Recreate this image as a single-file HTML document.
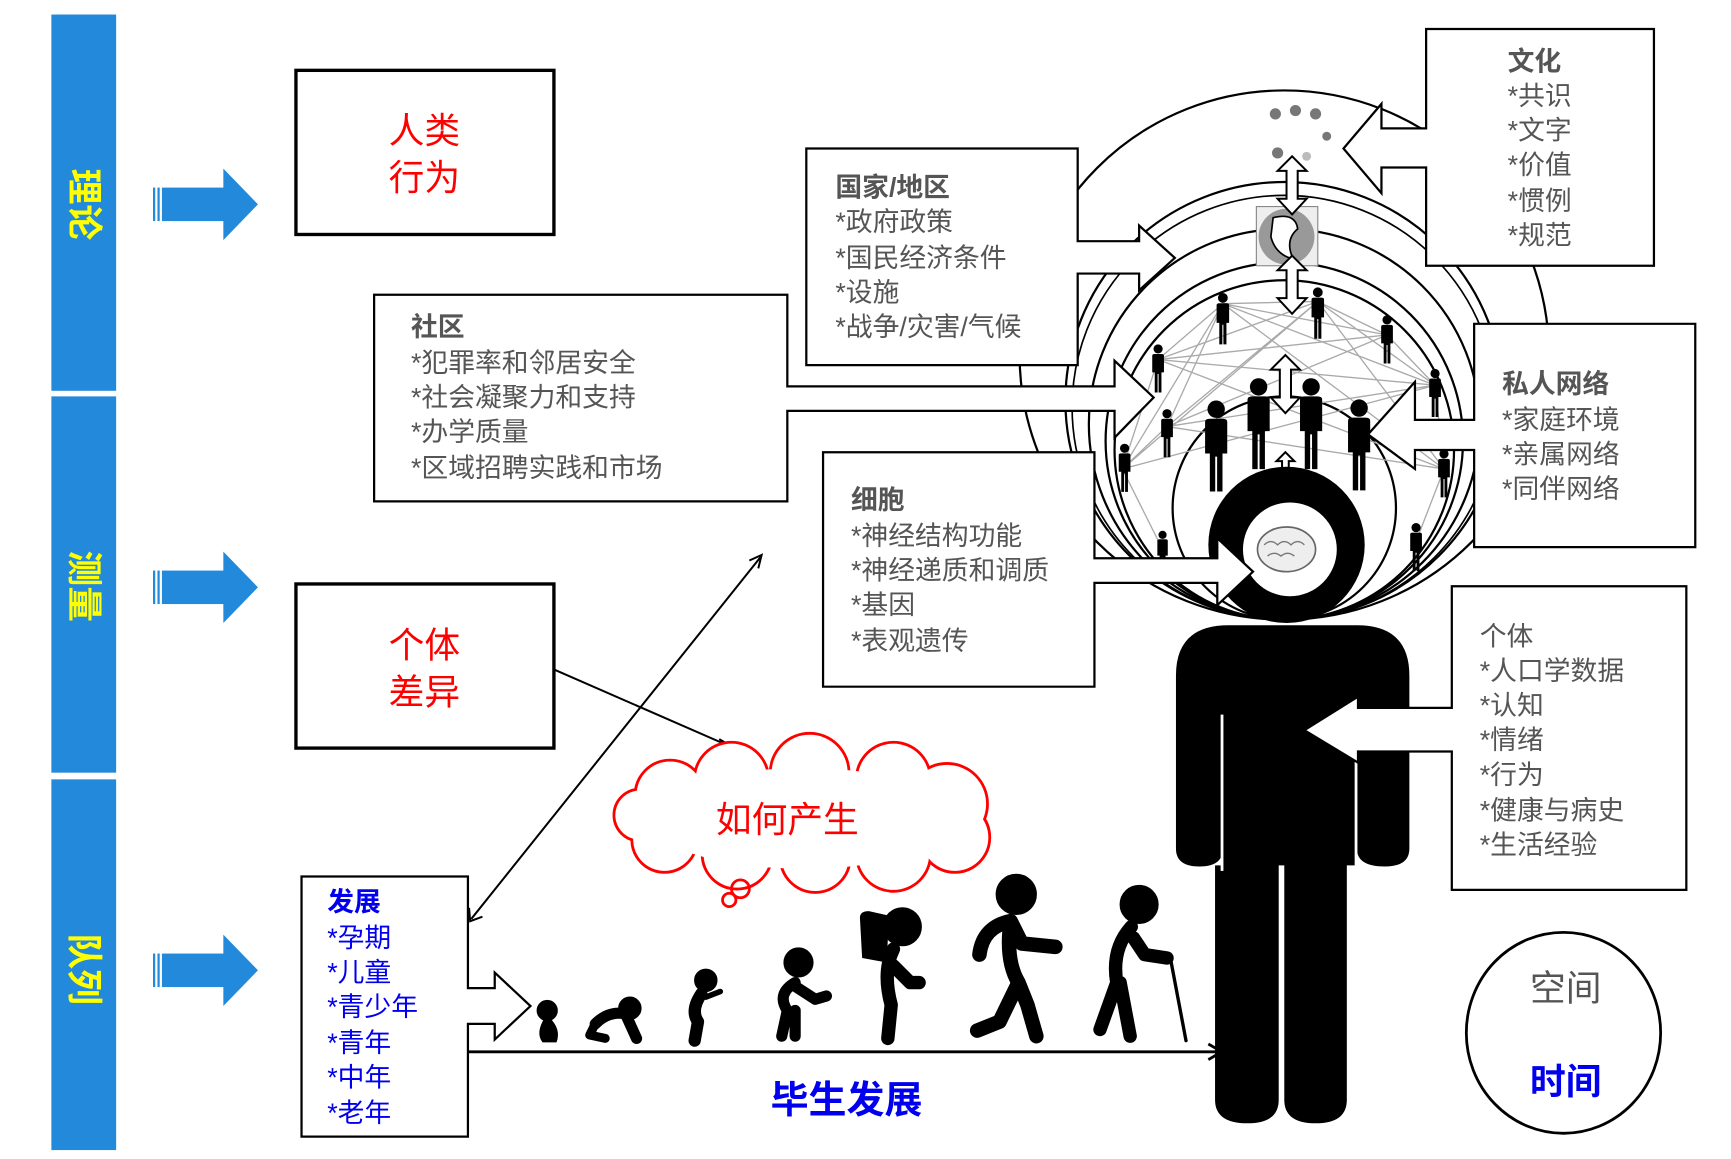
<!DOCTYPE html>
<html><head><meta charset="utf-8"><style>
html,body{margin:0;padding:0;background:#fff;}
svg{display:block;}
text{font-family:"Liberation Sans","Noto Sans CJK SC",sans-serif;}
.g{fill:#555;font-size:24px;}
.gb{fill:#555;font-size:24px;font-weight:bold;}
.b{fill:#0000ee;font-size:24px;}
</style></head><body>
<svg width="1731" height="1159" viewBox="0 0 1550 1038" preserveAspectRatio="none" xmlns="http://www.w3.org/2000/svg">
<defs>
<symbol id="p" viewBox="0 0 20 60"><circle cx="10" cy="6" r="5.5"/><path d="M3 14 Q3 12 6 12 L14 12 Q17 12 17 14 L17 34 L14 34 L14 58 L10.6 58 L10.6 36 L9.4 36 L9.4 58 L6 58 L6 34 L3 34Z"/></symbol>
</defs>
<rect x="46" y="13" width="58" height="337" fill="#2389db"/>
<rect x="46" y="355" width="58" height="337" fill="#2389db"/>
<rect x="46" y="698" width="58" height="332" fill="#2389db"/>
<g fill="#ffff00" font-size="32" font-weight="bold">
<text transform="translate(75,183) rotate(90)" text-anchor="middle" dominant-baseline="central">理论</text>
<text transform="translate(75,525) rotate(90)" text-anchor="middle" dominant-baseline="central">测量</text>
<text transform="translate(75,868) rotate(90)" text-anchor="middle" dominant-baseline="central">队列</text>
</g>
<g fill="#2389db">
<g id="ba"><rect x="137" y="168" width="2" height="30"/><rect x="141" y="168" width="2" height="30"/><rect x="145" y="168" width="56" height="30"/><path d="M200 151 L231 183 L200 215Z"/></g>
<use href="#ba" y="343"/><use href="#ba" y="686"/>
</g>
<rect x="265" y="63" width="231" height="147" fill="none" stroke="#000" stroke-width="3"/>
<text x="380" y="128" fill="#f00" font-size="32" text-anchor="middle">人类</text>
<text x="380" y="170" fill="#f00" font-size="32" text-anchor="middle">行为</text>
<rect x="265" y="523" width="231" height="147" fill="none" stroke="#000" stroke-width="3"/>
<text x="380" y="589" fill="#f00" font-size="32" text-anchor="middle">个体</text>
<text x="380" y="631" fill="#f00" font-size="32" text-anchor="middle">差异</text>
<path d="M270 785 L419 785 L419 885 L443 885 L443 871 L475 901 L443 931 L443 917 L419 917 L419 1018 L270 1018Z" fill="#fff" stroke="#000" stroke-width="2"/>
<text x="293" y="816" class="b" font-weight="bold">发展</text>
<text x="293" y="848" class="b">*孕期</text>
<text x="293" y="879" class="b">*儿童</text>
<text x="293" y="910" class="b">*青少年</text>
<text x="293" y="942" class="b">*青年</text>
<text x="293" y="973" class="b">*中年</text>
<text x="293" y="1005" class="b">*老年</text>
<line x1="419" y1="942" x2="1092" y2="942" stroke="#000" stroke-width="2.5"/>
<path d="M1082 935 L1094 942 L1082 949" fill="none" stroke="#000" stroke-width="2.5"/>
<text x="758" y="997" fill="#0000ee" font-size="34" font-weight="bold" text-anchor="middle">毕生发展</text>
<line x1="422" y1="823" x2="681" y2="499" stroke="#000" stroke-width="1.8"/>
<path d="M671 502 L682 497 L679 509" fill="none" stroke="#000" stroke-width="1.8"/>
<path d="M420 813 L421 825 L432 821" fill="none" stroke="#000" stroke-width="1.8"/>
<line x1="497" y1="600" x2="655" y2="669" stroke="#000" stroke-width="1.8"/>
<path d="M644 662 L656 669 L643 671" fill="none" stroke="#000" stroke-width="1.8"/>
<g fill="#fff" stroke="#f00" stroke-width="5">
<circle cx="600" cy="712" r="30"/><circle cx="655" cy="698" r="32"/><circle cx="725" cy="692" r="34"/><circle cx="800" cy="698" r="32"/><circle cx="848" cy="720" r="35"/><circle cx="855" cy="750" r="30"/><circle cx="800" cy="765" r="32"/><circle cx="730" cy="768" r="30"/><circle cx="660" cy="765" r="30"/><circle cx="595" cy="752" r="28"/><circle cx="573" cy="730" r="22"/>
</g>
<g fill="#fff" stroke="none">
<circle cx="600" cy="712" r="30"/><circle cx="655" cy="698" r="32"/><circle cx="725" cy="692" r="34"/><circle cx="800" cy="698" r="32"/><circle cx="848" cy="720" r="35"/><circle cx="855" cy="750" r="30"/><circle cx="800" cy="765" r="32"/><circle cx="730" cy="768" r="30"/><circle cx="660" cy="765" r="30"/><circle cx="595" cy="752" r="28"/><circle cx="573" cy="730" r="22"/>
<ellipse cx="720" cy="733" rx="140" ry="45"/>
</g>
<circle cx="663" cy="796" r="8" fill="none" stroke="#f00" stroke-width="2.5"/>
<circle cx="653" cy="806" r="6" fill="none" stroke="#f00" stroke-width="2.5"/>
<text x="705" y="745" fill="#f00" font-size="32" text-anchor="middle">如何产生</text>
<g fill="#000" stroke="#000" stroke-linecap="round" stroke-linejoin="round">
<circle cx="490" cy="905" r="9"/><path d="M488 912 Q480 925 486 933 L498 933 Q502 922 492 912Z"/>
<circle cx="564" cy="903" r="10"/><path d="M533 917 Q545 905 560 908 L570 930" fill="none" stroke-width="10"/><path d="M533 917 L528 927 L542 930" fill="none" stroke-width="8"/>
<circle cx="632" cy="878" r="10"/><path d="M628 890 Q618 905 625 915 L622 932" fill="none" stroke-width="11"/><path d="M632 893 L645 888" fill="none" stroke-width="5"/>
<circle cx="715" cy="862" r="13"/><path d="M712 880 Q695 890 705 905 L700 928 M712 905 L712 928 M710 882 L730 895 L740 892" fill="none" stroke-width="10"/>
<circle cx="808" cy="830" r="17"/><path d="M800 850 Q790 870 798 900 L795 930 M800 865 L815 880 L823 880" fill="none" stroke-width="12"/>
<circle cx="910" cy="801" r="18"/><path d="M905 825 Q880 830 877 855 M905 825 Q900 860 912 880 L895 915 L875 923 M912 880 L920 900 L928 928 M905 825 L915 845 L945 848" fill="none" stroke-width="13"/>
<circle cx="1020" cy="810" r="17"/><path d="M1013 830 Q995 850 1000 880 L985 922 M1003 880 L1012 928 M1015 840 L1025 855 L1045 858" fill="none" stroke-width="12"/><line x1="1048" y1="858" x2="1062" y2="932" stroke-width="3"/>
</g>
<path d="M770 822 Q770 816 778 816 L796 820 L794 862 L772 858 Z" fill="#000"/>
<g fill="none" stroke="#000" stroke-width="2">
<circle cx="1150" cy="318" r="237"/>
<circle cx="1150" cy="359" r="196"/>
<circle cx="1150" cy="395" r="160"/>
<circle cx="1150" cy="380" r="175"/>
<circle cx="1150" cy="365" r="190" stroke-width="1.5"/>
<circle cx="1150" cy="403" r="152"/>
<circle cx="1150" cy="455" r="100"/>
</g>
<g stroke="#aaa" stroke-width="1.2">
<path d="M1095 272 L1180 270 M1095 272 L1242 300 M1095 272 L1037 322 M1095 272 L1285 345 M1095 272 L1045 382 M1095 272 L1293 420 M1180 270 L1037 322 M1180 270 L1242 300 M1180 270 L1285 345 M1180 270 L1045 382 M1180 270 L1005 420 M1242 300 L1037 322 M1242 300 L1045 382 M1242 300 L1285 345 M1037 322 L1285 345 M1037 322 L1293 420 M1285 345 L1045 382 M1285 345 L1005 420 M1045 382 L1293 420 M1005 420 L1040 490 M1293 420 L1268 485 M1005 420 L1045 382 M1037 322 L1005 420 M1285 345 L1293 420 M1095 272 L1005 420 M1180 270 L1293 420"/>
</g>
<rect x="1125" y="185" width="55" height="53" fill="#eee" stroke="#888"/>
<circle cx="1152" cy="212" r="25" fill="#999"/>
<path d="M1140 195 Q1160 190 1162 205 Q1150 215 1158 232 Q1142 228 1138 212Z" fill="#fff" stroke="#000" stroke-width="1.5"/>
<g fill="#777"><circle cx="1142" cy="102" r="5"/><circle cx="1160" cy="99" r="5"/><circle cx="1178" cy="102" r="5"/><circle cx="1188" cy="122" r="4"/><circle cx="1144" cy="137" r="5"/><circle cx="1170" cy="140" r="4" fill="#bbb"/></g>
<g fill="#fff" stroke="#000" stroke-width="1.8">
<path id="da" d="M1157 140 L1170 153 L1162 153 L1162 178 L1170 178 L1157 192 L1144 178 L1152 178 L1152 153 L1144 153Z"/>
<use href="#da" y="89"/>
<use href="#da" x="-6" y="178"/>
<path d="M1151 405 L1159 413 L1154 413 L1154 428 L1159 428 L1151 437 L1143 428 L1148 428 L1148 413 L1143 413Z"/>
<path d="M1151 524 L1159 532 L1154 532 L1154 546 L1159 546 L1151 555 L1143 546 L1148 546 L1148 532 L1143 532Z"/>
</g>
<g fill="#000">
<use href="#p" x="1085" y="262" width="20" height="48"/>
<use href="#p" x="1170" y="257" width="20" height="48"/>
<use href="#p" x="1233" y="282" width="18" height="45"/>
<use href="#p" x="1028" y="308" width="18" height="45"/>
<use href="#p" x="1276" y="330" width="18" height="45"/>
<use href="#p" x="1036" y="366" width="18" height="45"/>
<use href="#p" x="998" y="397" width="18" height="45"/>
<use href="#p" x="1284" y="402" width="18" height="45"/>
<use href="#p" x="1032" y="475" width="18" height="40"/>
<use href="#p" x="1259" y="468" width="18" height="45"/>
<use href="#p" x="1072" y="358" width="34" height="85"/>
<use href="#p" x="1110" y="338" width="34" height="85"/>
<use href="#p" x="1157" y="338" width="34" height="85"/>
<use href="#p" x="1200" y="357" width="34" height="85"/>
</g>
<circle cx="1152" cy="488" r="70" fill="#000"/>
<circle cx="1155" cy="492" r="42" fill="#fff"/>
<ellipse cx="1152" cy="492" rx="26" ry="20" fill="#eee" stroke="#666" stroke-width="1.5"/>
<path d="M1132 488 q6 -6 12 0 q6 -6 12 0 q6 -6 12 0 M1135 498 q6 -5 12 0 q6 -5 12 0" fill="none" stroke="#777" stroke-width="1.2"/>
<path d="M1053 605 Q1053 560 1100 560 L1215 560 Q1262 560 1262 605 L1262 760 Q1262 776 1240 776 Q1215 776 1215 760 L1215 775 L1206 775 L1206 985 Q1206 1006 1178 1006 Q1150 1006 1150 985 L1150 775 L1145 775 L1145 985 Q1145 1006 1117 1006 Q1088 1006 1088 985 L1088 775 L1095 775 L1095 760 Q1095 776 1074 776 Q1053 776 1053 760Z" fill="#000"/>
<rect x="1093" y="640" width="2.5" height="140" fill="#fff"/>
<rect x="1213" y="640" width="2.5" height="140" fill="#fff"/>
<path d="M1277 26 L1481 26 L1481 238 L1277 238 L1277 150 L1237 150 L1237 173 L1203 133 L1237 93 L1237 115 L1277 115Z" fill="#fff" stroke="#000" stroke-width="2"/>
<text x="1350" y="63" class="gb">文化</text>
<text x="1350" y="94" class="g">*共识</text>
<text x="1350" y="125" class="g">*文字</text>
<text x="1350" y="156" class="g">*价值</text>
<text x="1350" y="188" class="g">*惯例</text>
<text x="1350" y="219" class="g">*规范</text>
<path d="M722 133 L965 133 L965 216 L1020 216 L1020 202 L1052 231 L1020 260 L1020 245 L965 245 L965 327 L722 327Z" fill="#fff" stroke="#000" stroke-width="2"/>
<text x="748" y="176" class="gb">国家/地区</text>
<text x="748" y="207" class="g">*政府政策</text>
<text x="748" y="239" class="g">*国民经济条件</text>
<text x="748" y="270" class="g">*设施</text>
<text x="748" y="301" class="g">*战争/灾害/气候</text>
<path d="M335 264 L705 264 L705 346 L998 346 L998 323 L1033 356 L998 392 L998 368 L705 368 L705 449 L335 449Z" fill="#fff" stroke="#000" stroke-width="2"/>
<text x="368" y="301" class="gb">社区</text>
<text x="368" y="333" class="g">*犯罪率和邻居安全</text>
<text x="368" y="364" class="g">*社会凝聚力和支持</text>
<text x="368" y="395" class="g">*办学质量</text>
<text x="368" y="427" class="g">*区域招聘实践和市场</text>
<path d="M737 405 L980 405 L980 500 L1090 500 L1090 482 L1122 512 L1090 542 L1090 522 L980 522 L980 615 L737 615Z" fill="#fff" stroke="#000" stroke-width="2"/>
<text x="762" y="456" class="gb">细胞</text>
<text x="762" y="488" class="g">*神经结构功能</text>
<text x="762" y="519" class="g">*神经递质和调质</text>
<text x="762" y="550" class="g">*基因</text>
<text x="762" y="582" class="g">*表观遗传</text>
<path d="M1320 290 L1518 290 L1518 490 L1320 490 L1320 403 L1267 403 L1267 420 L1225 389 L1267 342 L1267 376 L1320 376Z" fill="#fff" stroke="#000" stroke-width="2"/>
<text x="1345" y="352" class="gb">私人网络</text>
<text x="1345" y="384" class="g">*家庭环境</text>
<text x="1345" y="415" class="g">*亲属网络</text>
<text x="1345" y="446" class="g">*同伴网络</text>
<path d="M1300 525 L1510 525 L1510 797 L1300 797 L1300 673 L1216 673 L1216 683 L1168 654 L1216 624 L1216 634 L1300 634Z" fill="#fff" stroke="#000" stroke-width="2"/>
<text x="1325" y="578" class="g">个体</text>
<text x="1325" y="609" class="g">*人口学数据</text>
<text x="1325" y="640" class="g">*认知</text>
<text x="1325" y="671" class="g">*情绪</text>
<text x="1325" y="702" class="g">*行为</text>
<text x="1325" y="734" class="g">*健康与病史</text>
<text x="1325" y="765" class="g">*生活经验</text>
<ellipse cx="1400" cy="925" rx="87" ry="90" fill="none" stroke="#000" stroke-width="2.5"/>
<text x="1402" y="896" fill="#555" font-size="32" text-anchor="middle">空间</text>
<text x="1402" y="980" fill="#0000ee" font-size="32" font-weight="bold" text-anchor="middle">时间</text>
</svg>
</body></html>
